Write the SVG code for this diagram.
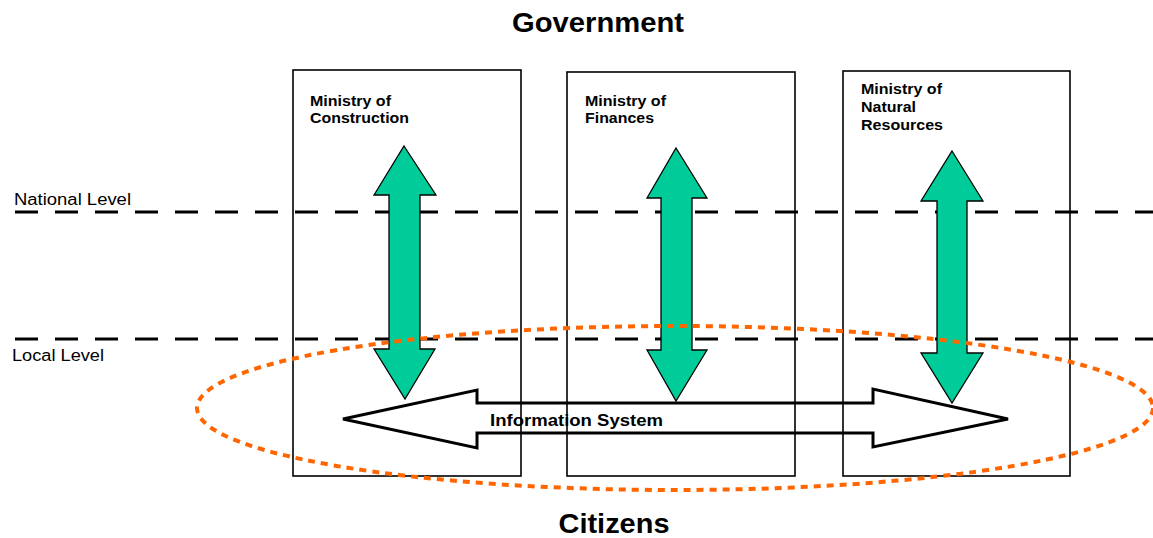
<svg xmlns="http://www.w3.org/2000/svg" width="1153" height="538" viewBox="0 0 1153 538">
<style>
.box{fill:#fff;stroke:#000;stroke-width:1.6}
.lvl{stroke:#000;stroke-width:3;stroke-dasharray:23 17;fill:none}
.green{fill:#00CC99;stroke:#000;stroke-width:1.3;stroke-linejoin:miter}
.hz{fill:none;stroke:#000;stroke-width:3;stroke-linejoin:miter}
.ell{fill:none;stroke:#FF6600;stroke-width:4;stroke-dasharray:7 6}
.lbl{font-family:"Liberation Sans",Arial,sans-serif;font-weight:bold;font-size:15px;fill:#000}
.info{font-family:"Liberation Sans",Arial,sans-serif;font-weight:bold;font-size:17px;fill:#000}
.title{font-family:"Liberation Sans",Arial,sans-serif;font-weight:bold;font-size:27px;fill:#000;text-anchor:middle}
.lev{font-family:"Liberation Sans",Arial,sans-serif;font-size:16px;fill:#000}
</style>
<rect width="1153" height="538" fill="#fff"/>
<g id="box-construction">
<rect class="box" x="293" y="70" width="228" height="406"/>
<text class="lbl" x="310" y="106" textLength="81" lengthAdjust="spacingAndGlyphs">Ministry of</text>
<text class="lbl" x="310" y="123" textLength="99" lengthAdjust="spacingAndGlyphs">Construction</text>
</g>
<g id="box-finances">
<rect class="box" x="567" y="72" width="228" height="404"/>
<text class="lbl" x="585" y="106" textLength="81" lengthAdjust="spacingAndGlyphs">Ministry of</text>
<text class="lbl" x="585" y="123" textLength="69" lengthAdjust="spacingAndGlyphs">Finances</text>
</g>
<g id="box-natural">
<rect class="box" x="843" y="71" width="227" height="405"/>
<text class="lbl" x="861" y="94" textLength="81" lengthAdjust="spacingAndGlyphs">Ministry of</text>
<text class="lbl" x="861" y="112" textLength="55" lengthAdjust="spacingAndGlyphs">Natural</text>
<text class="lbl" x="861" y="130" textLength="82" lengthAdjust="spacingAndGlyphs">Resources</text>
</g>
<g id="levels">
<line class="lvl" x1="15" y1="212" x2="1153" y2="212"/>
<line class="lvl" x1="15" y1="339" x2="1153" y2="339"/>
<text class="lev" x="14" y="205" textLength="117" lengthAdjust="spacingAndGlyphs">National Level</text>
<text class="lev" x="12" y="361" textLength="92" lengthAdjust="spacingAndGlyphs">Local Level</text>
</g>
<g id="connectors">
<polygon class="green" points="404,146 436,195 420,195 420,349 435,349 405,399 374,349 389,349 389,195 374,195"/>
<polygon class="green" points="676,148 707,198 692,198 692,350 707,350 676,401 647,350 661,350 661,198 647,198"/>
<polygon class="green" points="952,151 983,201 967,201 967,353 983,353 952,403 921,353 937,353 937,201 921,201"/>
<polygon class="hz" points="343,419 477,390 477,403 873,403 873,389 1008,419 873,447 873,433 477,433 477,448"/>
</g>
<g id="citizens-system">
<ellipse class="ell" cx="675" cy="408" rx="478" ry="82"/>
<text class="info" x="490" y="426" textLength="173" lengthAdjust="spacingAndGlyphs">Information System</text>
</g>
<g id="titles">
<text class="title" x="598" y="32" textLength="172" lengthAdjust="spacingAndGlyphs">Government</text>
<text class="title" x="614" y="533" textLength="111" lengthAdjust="spacingAndGlyphs">Citizens</text>
</g>
</svg>
